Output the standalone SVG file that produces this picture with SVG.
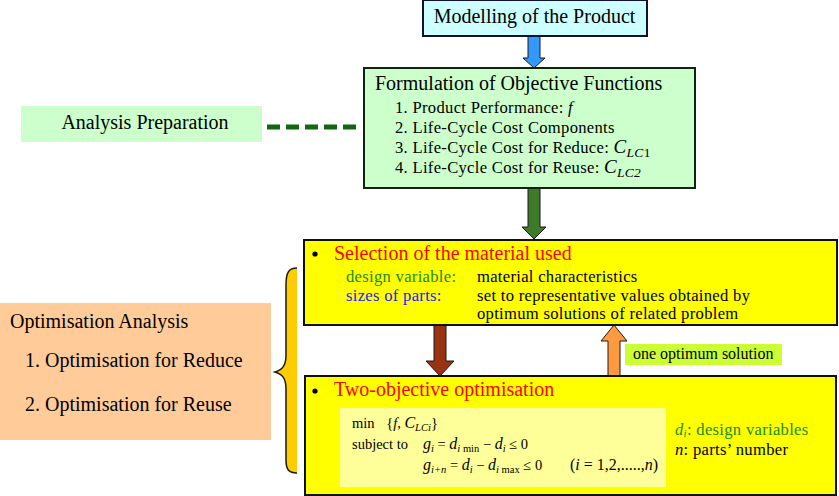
<svg xmlns="http://www.w3.org/2000/svg" width="839" height="496" viewBox="0 0 839 496" font-family="Liberation Serif, DejaVu Serif, serif">
<style>
.big{font-size:20px}
.mid{font-size:16.6px;letter-spacing:0.3px}
.sm{font-size:14.5px}
.it{font-style:italic}
.red{fill:#ff0000}
.grn{fill:#1a8a1a}
.blu{fill:#2222ee}
.arrow{stroke:#1a1a1a;stroke-width:1}
</style>
<rect width="839" height="496" fill="#ffffff"/>

<g id="connectors">
  <line x1="267" y1="127" x2="362" y2="127" stroke="#116611" stroke-width="5" stroke-dasharray="13 6"/>
  <polygon class="arrow" fill="#3399ff" points="528,36 540,36 540,58 545,58 534,68 523,58 528,58"/>
  <polygon class="arrow" fill="#3f7a2a" points="528,188 540,188 540,227 546,227 534,239 522,227 528,227"/>
  <polygon class="arrow" fill="#993311" points="434,325 446,325 446,361 454,361 440,376 426,361 434,361"/>
  <polygon class="arrow" fill="#ff9a40" points="608,376 620,376 620,341 627,341 614,325 601,341 608,341"/>
</g>

<g id="modelling">
  <rect x="423" y="0" width="224" height="36" fill="#ccffff" stroke="#111133" stroke-width="2"/>
  <text class="big" x="534.5" y="23" text-anchor="middle">Modelling of the Product</text>
</g>

<g id="formulation">
  <rect x="364" y="68" width="331" height="120" fill="#ccffcc" stroke="#112211" stroke-width="2"/>
  <text class="big" x="375" y="90">Formulation of Objective Functions</text>
  <text class="mid" x="395" y="113">1. Product Performance: <tspan class="it">f</tspan></text>
  <text class="mid" x="395" y="133">2. Life-Cycle Cost Components</text>
  <text class="mid" x="395" y="153">3. Life-Cycle Cost for Reduce: <tspan class="it" font-size="19">C</tspan><tspan class="it" font-size="13.5" dy="4">LC</tspan><tspan font-size="13.5">1</tspan></text>
  <text class="mid" x="395" y="173">4. Life-Cycle Cost for Reuse: <tspan class="it" font-size="19">C</tspan><tspan class="it" font-size="13.5" dy="4">LC2</tspan></text>
</g>

<g id="analysis-preparation">
  <rect x="21" y="106" width="241" height="36" fill="#ccffcc"/>
  <text class="big" x="145" y="129" text-anchor="middle">Analysis Preparation</text>
</g>

<g id="optimisation-analysis">
  <rect x="0" y="303" width="271" height="137" fill="#ffcc99"/>
  <text class="big" x="10" y="328">Optimisation Analysis</text>
  <text class="big" x="25" y="367">1. Optimisation for Reduce</text>
  <text class="big" x="25" y="411">2. Optimisation for Reuse</text>
</g>

<g id="brace">
  <path d="M297 268 C289 268 286 272 286 285 L286 355 C286 366 282 370 275 372 C282 374 286 378 286 389 L286 460 C286 470 289 473 297 473 Z" fill="#ffcc00"/>
  <path d="M297 268 C289 268 286 272 286 285 L286 355 C286 366 282 370 275 372 C282 374 286 378 286 389 L286 460 C286 470 289 473 297 473" fill="none" stroke="#1a1a1a" stroke-width="1.5"/>
</g>

<g id="selection">
  <rect x="304" y="240" width="533" height="85" fill="#ffff00" stroke="#111111" stroke-width="2"/>
  <circle cx="315" cy="254" r="2.6" fill="#000"/>
  <text class="big red" x="334" y="260">Selection of the material used</text>
  <text class="mid grn" x="346" y="282">design variable:</text>
  <text class="mid" x="477" y="282">material characteristics</text>
  <text class="mid blu" x="346" y="300.5">sizes of parts:</text>
  <text class="mid" x="477" y="300.5">set to representative values obtained by</text>
  <text class="mid" x="477" y="319">optimum solutions of related problem</text>
</g>

<g id="one-optimum-label">
  <rect x="625" y="344" width="157" height="21" fill="#ccff33"/>
  <text x="633" y="359" font-size="16">one optimum solution</text>
</g>

<g id="two-objective">
  <rect x="305" y="376" width="531" height="119" fill="#ffff00" stroke="#111111" stroke-width="2"/>
  <circle cx="315" cy="391" r="2.6" fill="#000"/>
  <text class="big red" x="334" y="396">Two-objective optimisation</text>
  <rect x="340" y="408" width="326" height="79" fill="#ffff99"/>
  <text class="sm" x="352" y="428">min <tspan dx="8">{</tspan><tspan class="it">f</tspan>, <tspan class="it" font-size="16">C</tspan><tspan class="it" font-size="10.5" dy="3">LCi</tspan><tspan dy="-3">}</tspan></text>
  <text class="sm" x="352" y="449">subject to</text>
  <text class="sm" x="423" y="449"><tspan class="it" font-size="16">g</tspan><tspan class="it" font-size="10.5" dy="3">i</tspan><tspan dy="-3"> = </tspan><tspan class="it" font-size="16">d</tspan><tspan class="it" font-size="10.5" dy="3">i</tspan><tspan font-size="10.5"> min</tspan><tspan dy="-3"> − </tspan><tspan class="it" font-size="16">d</tspan><tspan class="it" font-size="10.5" dy="3">i</tspan><tspan dy="-3"> ≤ 0</tspan></text>
  <text class="sm" x="423" y="470"><tspan class="it" font-size="16">g</tspan><tspan class="it" font-size="10.5" dy="3">i+n</tspan><tspan dy="-3"> = </tspan><tspan class="it" font-size="16">d</tspan><tspan class="it" font-size="10.5" dy="3">i</tspan><tspan dy="-3"> − </tspan><tspan class="it" font-size="16">d</tspan><tspan class="it" font-size="10.5" dy="3">i</tspan><tspan font-size="10.5"> max</tspan><tspan dy="-3"> ≤ 0</tspan></text>
  <text x="570" y="470" font-size="16">(<tspan class="it">i</tspan> = 1,2,.....,<tspan class="it">n</tspan>)</text>
  <text class="mid grn" x="675" y="435"><tspan class="it">d</tspan><tspan class="it" font-size="11" dy="2">i</tspan><tspan dy="-2">: design variables</tspan></text>
  <text class="mid" x="675" y="455"><tspan class="it">n</tspan>: parts’ number</text>
</g>
</svg>
